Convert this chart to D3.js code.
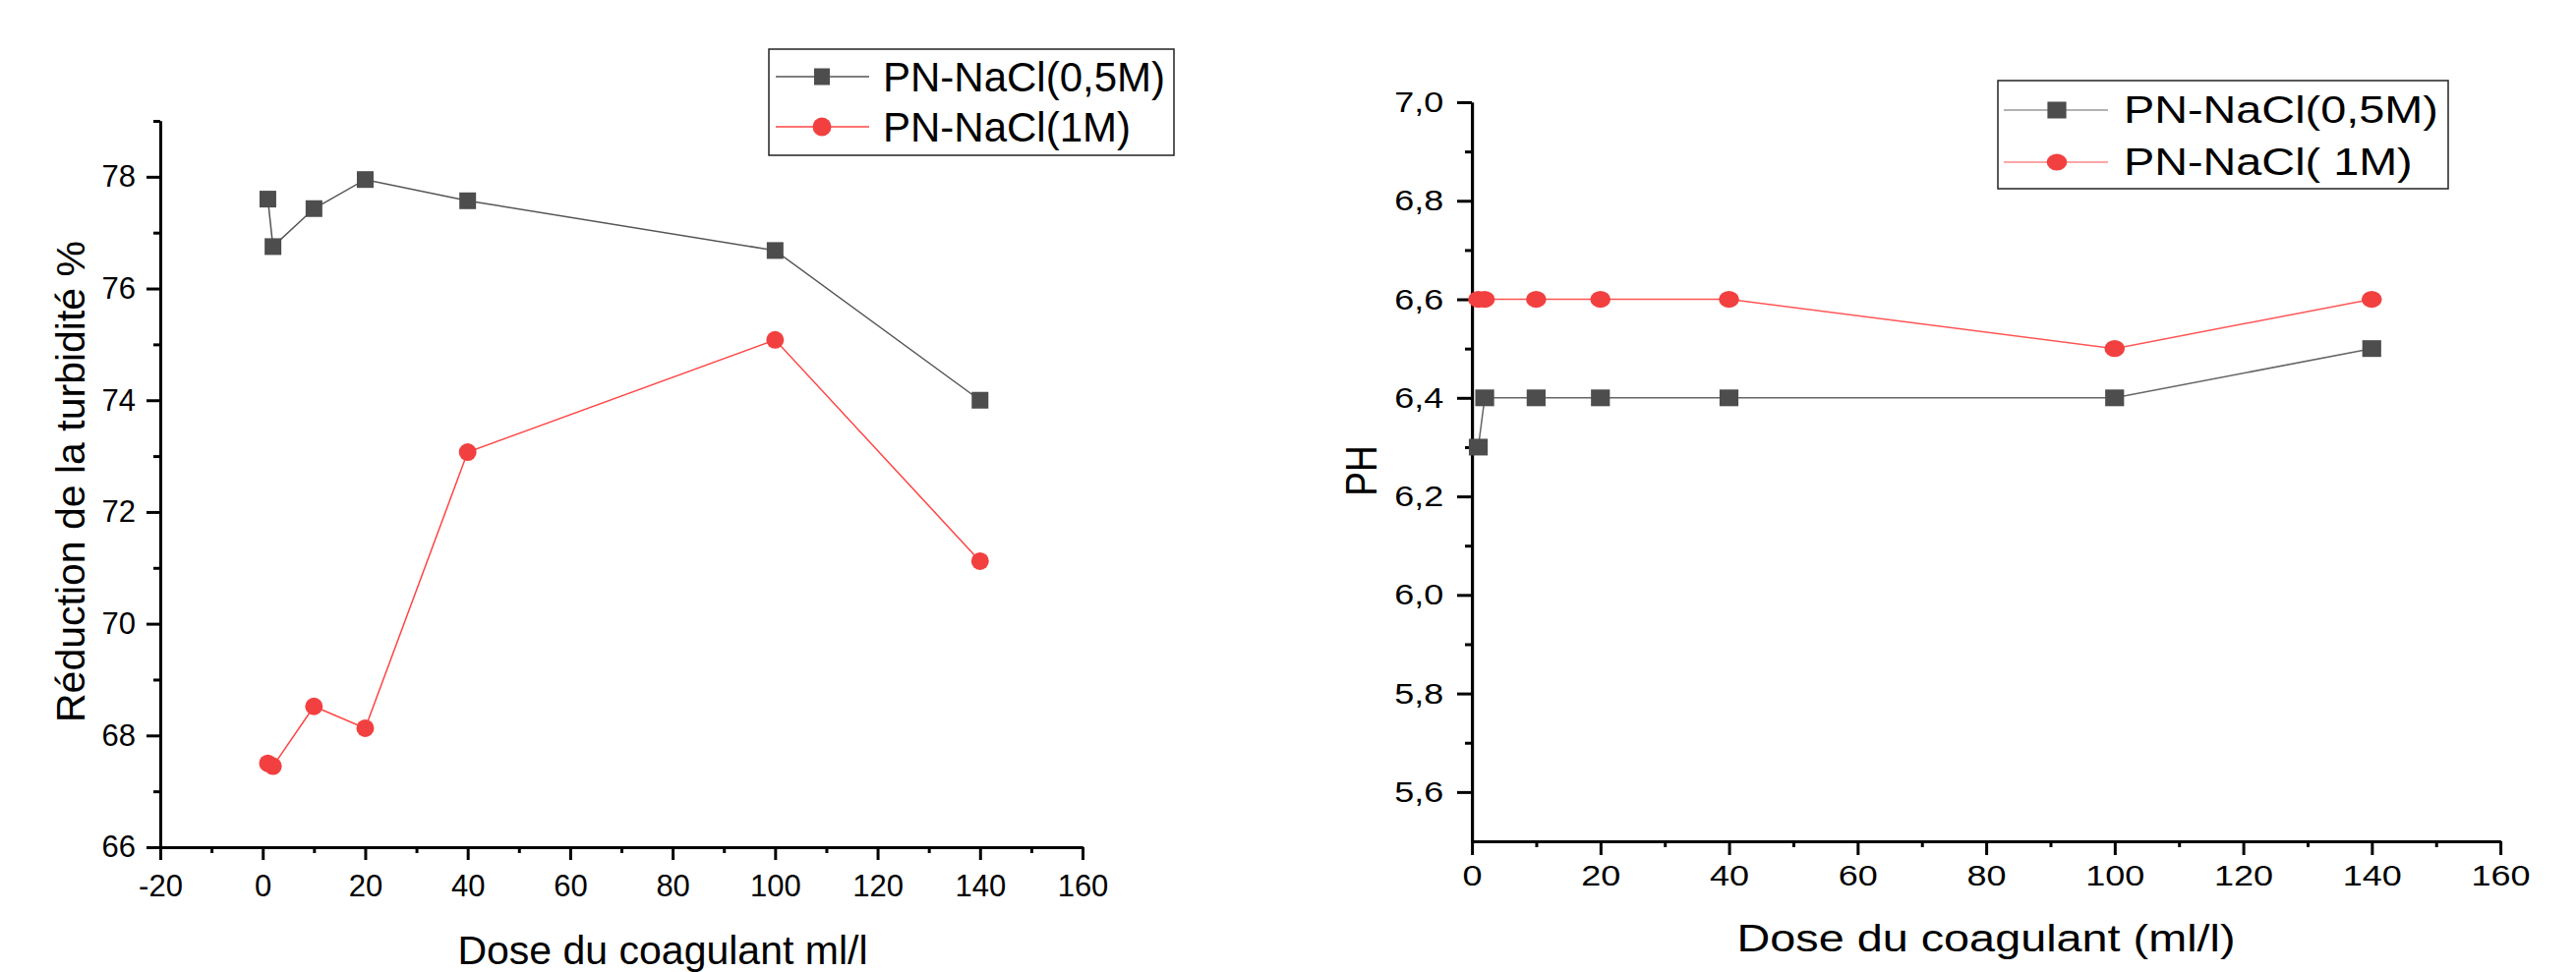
<!DOCTYPE html>
<html>
<head>
<meta charset="utf-8">
<script src="https://cdn.jsdelivr.net/npm/d3@7.9.0/dist/d3.min.js"></script>
<style>
  body { margin: 0; background: #fff; }
  svg { display: block; font-family: "Liberation Sans", Arial, sans-serif; }
  .axis path, .axis line { stroke: #000; stroke-width: 3; vector-effect: non-scaling-stroke; }
  .axis text { fill: #000; }
</style>
</head>
<body>
<svg id="chart" width="2620" height="989"></svg>
<script>
// doses (ml/l)
const dose = [1, 2, 10, 20, 40, 100, 140];
// turbidity reduction %
const turb05 = [77.6, 76.75, 77.43, 77.95, 77.57, 76.68, 74.0];
const turb1 = [67.5, 67.45, 68.52, 68.13, 73.07, 75.08, 71.12];
// pH
const ph05 = [6.3, 6.4, 6.4, 6.4, 6.4, 6.4, 6.5];
const ph1 = [6.6, 6.6, 6.6, 6.6, 6.6, 6.5, 6.6];

const seriesNames1 = ['PN-NaCl(0,5M)', 'PN-NaCl(1M)'];
const seriesNames2 = ['PN-NaCl(0,5M)', 'PN-NaCl( 1M)'];

const xTicks1 = d3.range(-20, 161, 20);
const xMinor1 = d3.range(-10, 161, 20);
const yTicks1 = d3.range(66, 79, 2);
const yMinor1 = d3.range(67, 80, 2);
const xTicks2 = d3.range(0, 161, 20);
const xMinor2 = d3.range(10, 161, 20);
const yTicks2 = [5.6, 5.8, 6.0, 6.2, 6.4, 6.6, 6.8, 7.0];
const yMinor2 = [5.7, 5.9, 6.1, 6.3, 6.5, 6.7, 6.9];

const gray = '#4d4d4d';
const red = '#f24040';
const svg = d3.select('#chart');
const comma = d => d3.format('.1f')(d).replace('.', ',');
const plain = d => String(d); // keep hyphen-minus like the original

// ---------- left chart ----------
const x1 = d3.scaleLinear().domain([-20, 160]).range([163, 1101]);
const y1 = d3.scaleLinear().domain([66, 79]).range([862, 123]);
const g1 = svg.append('g');

g1.append('g').attr('class', 'axis')
  .attr('transform', `translate(0,${y1(66)})`)
  .call(d3.axisBottom(x1).tickValues(xMinor1).tickSize(6).tickFormat('').tickSizeOuter(0));
g1.append('g').attr('class', 'axis')
  .attr('transform', `translate(0,${y1(66)})`)
  .call(d3.axisBottom(x1).tickValues(xTicks1).tickSize(13).tickPadding(15).tickFormat(plain).tickSizeOuter(0))
  .selectAll('text').style('font-size', '31px');
g1.append('g').attr('class', 'axis')
  .attr('transform', `translate(${x1(-20)},0)`)
  .call(d3.axisLeft(y1).tickValues(yMinor1).tickSize(7).tickFormat('').tickSizeOuter(0));
g1.append('g').attr('class', 'axis')
  .attr('transform', `translate(${x1(-20)},0)`)
  .call(d3.axisLeft(y1).tickValues(yTicks1).tickSize(14).tickPadding(11).tickFormat(plain).tickSizeOuter(0))
  .selectAll('text').style('font-size', '31px');

const line1 = d3.line().x((d, i) => x1(dose[i])).y(d => y1(d));
g1.append('path').datum(turb05).attr('d', line1)
  .attr('fill', 'none').attr('stroke', '#555').attr('stroke-width', 1.5);
g1.append('path').datum(turb1).attr('d', line1)
  .attr('fill', 'none').attr('stroke', '#f44').attr('stroke-width', 1.5);

g1.selectAll('rect.pt').data(turb05).join('rect').attr('class', 'pt')
  .attr('x', (d, i) => x1(dose[i]) - 8.5).attr('y', d => y1(d) - 8.5)
  .attr('width', 17).attr('height', 17).attr('fill', gray);
g1.selectAll('circle.pt').data(turb1).join('circle').attr('class', 'pt')
  .attr('cx', (d, i) => x1(dose[i])).attr('cy', d => y1(d)).attr('r', 9).attr('fill', red);

g1.append('text')
  .attr('transform', 'translate(86,490) rotate(-90)')
  .attr('text-anchor', 'middle').style('font-size', '41px')
  .text('Réduction de la turbidité %');
g1.append('text')
  .attr('x', 674).attr('y', 981)
  .attr('text-anchor', 'middle').style('font-size', '41px')
  .text('Dose du coagulant ml/l');

// legend left
const lg1 = g1.append('g');
lg1.append('rect').attr('x', 782).attr('y', 50).attr('width', 412).attr('height', 108)
  .attr('fill', 'none').attr('stroke', '#222').attr('stroke-width', 1.5);
[78, 129].forEach((cy, i) => {
  lg1.append('line').attr('x1', 789).attr('x2', 884).attr('y1', cy).attr('y2', cy)
    .attr('stroke', i ? '#f44' : '#555').attr('stroke-width', 1.5);
  if (i === 0) {
    lg1.append('rect').attr('x', 836 - 8).attr('y', cy - 8.5).attr('width', 16).attr('height', 17).attr('fill', gray);
  } else {
    lg1.append('circle').attr('cx', 836).attr('cy', cy).attr('r', 9.5).attr('fill', red);
  }
  lg1.append('text').attr('x', 898).attr('y', cy + 15).style('font-size', '42px').text(seriesNames1[i]);
});

// ---------- right chart (drawn in a horizontally stretched frame) ----------
const sx = 1.2;
const g2 = svg.append('g').attr('transform', `translate(1497,0) scale(${sx},1)`);
const x2 = d3.scaleLinear().domain([0, 160]).range([0, (2543 - 1497) / sx]);
const y2 = d3.scaleLinear().domain([5.5, 7.0]).range([856, 104]);

g2.append('g').attr('class', 'axis')
  .attr('transform', `translate(0,${y2(5.5)})`)
  .call(d3.axisBottom(x2).tickValues(xMinor2).tickSize(6).tickFormat('').tickSizeOuter(0));
g2.append('g').attr('class', 'axis')
  .attr('transform', `translate(0,${y2(5.5)})`)
  .call(d3.axisBottom(x2).tickValues(xTicks2).tickSize(14).tickPadding(10).tickFormat(plain).tickSizeOuter(0))
  .selectAll('text').style('font-size', '30px');
g2.append('g').attr('class', 'axis')
  .call(d3.axisLeft(y2).tickValues(yMinor2).tickSize(7 / sx).tickFormat('').tickSizeOuter(0));
g2.append('g').attr('class', 'axis')
  .call(d3.axisLeft(y2).tickValues(yTicks2).tickSize(15 / sx).tickPadding(11.5).tickFormat(comma).tickSizeOuter(0))
  .selectAll('text').style('font-size', '30px');

const line2 = d3.line().x((d, i) => x2(dose[i])).y(d => y2(d));
g2.append('path').datum(ph05).attr('d', line2)
  .attr('fill', 'none').attr('stroke', '#666').attr('stroke-width', 1.5)
  .style('vector-effect', 'non-scaling-stroke');
g2.append('path').datum(ph1).attr('d', line2)
  .attr('fill', 'none').attr('stroke', '#f55').attr('stroke-width', 1.5)
  .style('vector-effect', 'non-scaling-stroke');

g2.selectAll('rect.pt').data(ph05).join('rect').attr('class', 'pt')
  .attr('x', (d, i) => x2(dose[i]) - 8).attr('y', d => y2(d) - 8.5)
  .attr('width', 16).attr('height', 17).attr('fill', gray);
g2.selectAll('circle.pt').data(ph1).join('circle').attr('class', 'pt')
  .attr('cx', (d, i) => x2(dose[i])).attr('cy', d => y2(d)).attr('r', 8.6).attr('fill', red);

g2.append('text')
  .attr('transform', `translate(${(1400 - 1497) / sx},479) rotate(-90)`)
  .attr('text-anchor', 'middle').style('font-size', '37px')
  .text('PH');
g2.append('text')
  .attr('x', (2020 - 1497) / sx).attr('y', 968)
  .attr('text-anchor', 'middle').style('font-size', '39px')
  .text('Dose du coagulant (ml/l)');

// legend right
const lg2 = g2.append('g');
const lx0 = (2032 - 1497) / sx, lx1 = (2490 - 1497) / sx;
lg2.append('rect').attr('x', lx0).attr('y', 82).attr('width', lx1 - lx0).attr('height', 110)
  .attr('fill', 'none').attr('stroke', '#222').attr('stroke-width', 1.5)
  .style('vector-effect', 'non-scaling-stroke');
[112, 165].forEach((cy, i) => {
  lg2.append('line')
    .attr('x1', (2038 - 1497) / sx).attr('x2', (2144 - 1497) / sx).attr('y1', cy).attr('y2', cy)
    .attr('stroke', i ? '#f88' : '#999').attr('stroke-width', 1.5);
  const mx = (2092 - 1497) / sx;
  if (i === 0) {
    lg2.append('rect').attr('x', mx - 8).attr('y', cy - 8.5).attr('width', 16).attr('height', 17).attr('fill', gray);
  } else {
    lg2.append('circle').attr('cx', mx).attr('cy', cy).attr('r', 8.6).attr('fill', red);
  }
  lg2.append('text').attr('x', (2160 - 1497) / sx).attr('y', cy + 13).style('font-size', '39px').text(seriesNames2[i]);
});
</script>
</body>
</html>
